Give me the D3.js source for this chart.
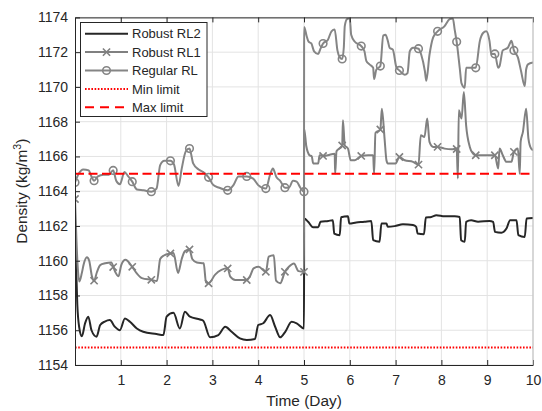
<!DOCTYPE html>
<html>
<head>
<meta charset="utf-8">
<script src="https://cdn.jsdelivr.net/npm/d3@7"></script>
<style>
  body { margin: 0; background: #fff; }
  text { font-family: Arial, "Liberation Sans", Helvetica, sans-serif; fill: #262626; }
</style>
</head>
<body>
<script>
'use strict';

// [day, density] samples
const robustRL2 = [
  [0,1162.4],[0.02,1160.0],[0.05,1157.5],[0.09,1156.2],[0.15,1155.65],[0.22,1156.4],[0.29,1156.78],
  [0.36,1156.0],[0.47,1155.63],[0.55,1156.3],[0.65,1156.5],[0.76,1156.59],[0.87,1156.2],[0.98,1156.0],
  [1.09,1156.68],[1.2,1156.49],[1.35,1156.1],[1.49,1155.91],[1.78,1155.78],[1.93,1155.72],[2.0,1156.78],
  [2.15,1157.0],[2.29,1156.1],[2.4,1157.06],[2.51,1156.78],[2.73,1156.62],[2.8,1156.55],[2.95,1155.59],
  [3.13,1155.72],[3.28,1156.2],[3.42,1155.91],[3.6,1155.53],[3.75,1155.44],[3.93,1155.5],[4.0,1156.3],
  [4.11,1156.4],[4.26,1156.87],[4.37,1156.2],[4.48,1155.59],[4.59,1155.91],[4.73,1156.49],[4.84,1156.4],
  [5.0,1156.1],
  [5.003,1162.43],[5.09,1162.24],[5.2,1161.92],[5.31,1161.92],[5.36,1162.24],[5.53,1162.29],[5.63,1162.33],
  [5.66,1161.56],[5.78,1161.47],[5.81,1162.5],[5.96,1162.56],[5.99,1162.14],[6.14,1162.2],[6.32,1162.24],
  [6.47,1162.29],[6.51,1161.18],[6.65,1161.09],[6.69,1162.14],[6.8,1162.14],[6.83,1161.95],[6.98,1161.99],
  [7.16,1162.1],[7.38,1162.05],[7.45,1161.95],[7.48,1161.56],[7.62,1161.53],[7.66,1162.49],[7.78,1162.52],
  [7.89,1162.62],[8.07,1162.56],[8.29,1162.56],[8.4,1162.52],[8.43,1161.18],[8.51,1161.09],[8.54,1162.24],
  [8.65,1162.33],[8.8,1162.24],[9.05,1162.29],[9.13,1162.24],[9.17,1161.66],[9.31,1161.61],[9.42,1161.85],
  [9.5,1162.33],[9.64,1162.33],[9.68,1161.47],[9.82,1161.37],[9.86,1162.43],[10,1162.46]
];

const robustRL1 = [
  [0,1163.55],[0.03,1161.3],[0.06,1159.6],[0.095,1158.8],[0.15,1159.3],[0.19,1159.8],[0.26,1160.2],
  [0.31,1160.0],[0.37,1159.1],[0.417,1158.85],[0.48,1159.35],[0.55,1159.75],[0.66,1159.85],[0.79,1159.9],
  [0.88,1159.35],[0.95,1159.1],[1.01,1159.75],[1.1,1160.05],[1.25,1159.65],[1.35,1159.27],[1.46,1159.0],
  [1.667,1158.9],[1.79,1158.83],[1.86,1160.1],[1.94,1160.3],[2.083,1160.42],[2.15,1160.45],[2.25,1159.3],
  [2.33,1160.1],[2.4,1160.55],[2.5,1160.65],[2.56,1160.1],[2.66,1159.9],[2.81,1159.85],[2.86,1158.75],
  [2.917,1158.7],[3.06,1159.2],[3.333,1159.56],[3.39,1159.08],[3.5,1158.89],[3.75,1158.89],[3.82,1159.1],
  [3.9,1159.56],[4.01,1159.65],[4.167,1159.36],[4.23,1160.23],[4.34,1160.32],[4.39,1158.85],[4.48,1158.7],
  [4.583,1159.36],[4.67,1159.65],[4.78,1159.84],[4.88,1159.4],[5.0,1159.36],
  [5.003,1167.6],[5.05,1166.6],[5.12,1166.07],[5.17,1166.0],[5.2,1165.6],[5.31,1165.6],[5.34,1166.07],
  [5.417,1166.03],[5.52,1166.07],[5.67,1166.16],[5.68,1165.0],[5.71,1166.3],[5.833,1166.6],[5.85,1168.08],
  [5.89,1166.64],[5.96,1166.45],[6.02,1165.78],[6.11,1165.78],[6.25,1166.03],[6.4,1166.07],[6.51,1166.07],
  [6.53,1165.0],[6.56,1167.35],[6.667,1167.55],[6.7,1168.75],[6.76,1167.0],[6.8,1165.78],[6.83,1165.59],
  [7.0,1165.59],[7.083,1165.97],[7.2,1165.78],[7.38,1165.69],[7.5,1165.53],[7.55,1167.22],[7.63,1167.12],
  [7.69,1168.18],[7.74,1166.84],[7.82,1166.55],[7.917,1166.55],[8.07,1166.45],[8.22,1166.41],[8.333,1166.45],
  [8.36,1164.73],[8.38,1168.66],[8.44,1168.18],[8.49,1169.71],[8.54,1167.79],[8.62,1166.55],[8.69,1166.16],
  [8.75,1166.07],[8.95,1166.07],[9.09,1166.07],[9.167,1166.07],[9.24,1165.3],[9.27,1166.45],[9.34,1166.07],
  [9.42,1165.69],[9.53,1165.69],[9.583,1166.26],[9.67,1166.45],[9.71,1165.01],[9.73,1166.84],[9.78,1167.41],
  [9.85,1168.75],[9.9,1167.03],[9.96,1166.45],[10,1166.36]
];

const regularRL = [
  [0,1164.5],[0.08,1165.0],[0.18,1165.25],[0.3,1165.2],[0.35,1164.9],[0.417,1164.6],[0.5,1164.85],
  [0.62,1164.95],[0.74,1164.95],[0.833,1165.2],[0.9,1164.6],[0.98,1164.4],[1.08,1165.1],[1.15,1164.9],
  [1.25,1164.55],[1.35,1164.1],[1.5,1164.05],[1.667,1163.97],[1.78,1164.15],[1.86,1165.5],[1.95,1165.75],
  [2.083,1165.75],[2.16,1165.55],[2.26,1164.3],[2.33,1165.3],[2.42,1166.3],[2.5,1166.45],[2.58,1165.6],
  [2.7,1165.25],[2.8,1165.1],[2.917,1164.8],[3.02,1164.35],[3.15,1164.2],[3.333,1164.05],[3.46,1164.35],
  [3.57,1164.85],[3.75,1164.85],[3.89,1164.72],[4.0,1164.35],[4.167,1164.15],[4.26,1164.95],[4.32,1165.3],
  [4.4,1164.8],[4.48,1164.6],[4.583,1164.2],[4.67,1164.2],[4.76,1164.6],[4.84,1164.55],[4.92,1164.2],
  [5.0,1163.97],
  [5.003,1173.45],[5.06,1172.9],[5.1,1172.6],[5.16,1172.5],[5.22,1172.05],[5.31,1171.9],[5.36,1172.2],
  [5.417,1172.5],[5.52,1172.7],[5.6,1173.2],[5.67,1173.3],[5.73,1172.1],[5.78,1171.7],[5.833,1171.6],
  [5.87,1172.3],[5.89,1173.5],[5.94,1173.9],[6.0,1173.95],[6.03,1173.0],[6.11,1172.6],[6.25,1172.35],
  [6.32,1172.05],[6.36,1171.5],[6.43,1171.3],[6.51,1171.1],[6.53,1170.45],[6.58,1171.0],[6.667,1171.2],
  [6.73,1172.95],[6.78,1173.0],[6.83,1172.65],[6.87,1172.25],[6.94,1172.15],[7.02,1171.1],[7.083,1170.95],
  [7.2,1170.7],[7.26,1170.8],[7.31,1172.05],[7.38,1172.25],[7.5,1172.2],[7.56,1171.85],[7.64,1170.9],
  [7.67,1170.35],[7.74,1171.85],[7.82,1172.85],[7.917,1173.2],[8.07,1173.5],[8.18,1173.9],[8.25,1173.94],
  [8.29,1173.3],[8.333,1172.6],[8.4,1171.1],[8.44,1170.2],[8.51,1169.95],[8.54,1171.1],[8.62,1171.1],
  [8.75,1171.1],[8.84,1172.65],[8.91,1173.1],[8.98,1173.2],[9.05,1172.65],[9.09,1171.9],[9.167,1171.9],
  [9.24,1171.1],[9.27,1171.2],[9.34,1172.1],[9.45,1172.25],[9.53,1172.65],[9.583,1172.1],[9.67,1171.7],
  [9.74,1170.9],[9.82,1170.05],[9.85,1171.0],[9.89,1171.3],[10,1171.4]
];

const minLimit = 1155;
const maxLimit = 1165;
const xTicks = [1, 2, 3, 4, 5, 6, 7, 8, 9, 10];
const yTicks = [1154, 1156, 1158, 1160, 1162, 1164, 1166, 1168, 1170, 1172, 1174];
const markerDays = d3.range(0, 24).map(k => (k * 5) / 12);
const legendNames = ['Robust RL2', 'Robust RL1', 'Regular RL', 'Min limit', 'Max limit'];

const width = 542, height = 411;
const margin = { left: 75, right: 9, top: 17.4, bottom: 46 };
const axisColor = '#262626';

const svg = d3.select('body').append('svg')
  .attr('width', width)
  .attr('height', height);

const x = d3.scaleLinear().domain([0, 10]).range([margin.left, width - margin.right]);
const y = d3.scaleLinear().domain([1154, 1174]).range([height - margin.bottom, margin.top]);

svg.append('clipPath').attr('id', 'plot-clip')
  .append('rect')
  .attr('x', x(0)).attr('y', y(1174))
  .attr('width', x(10) - x(0)).attr('height', y(1154) - y(1174));

// grid
const grid = svg.append('g');
grid.selectAll('.gx').data(xTicks).enter().append('line')
  .attr('x1', d => x(d)).attr('x2', d => x(d))
  .attr('y1', y(1154)).attr('y2', y(1174))
  .attr('stroke', '#e3e3e3').attr('stroke-width', 1);
grid.selectAll('.gy').data(yTicks).enter().append('line')
  .attr('x1', x(0)).attr('x2', x(10))
  .attr('y1', d => y(d)).attr('y2', d => y(d))
  .attr('stroke', '#e3e3e3').attr('stroke-width', 1);

// series
const line = d3.line()
  .x(d => x(d[0]))
  .y(d => y(d[1]))
  .curve(d3.curveMonotoneX);

const plot = svg.append('g').attr('clip-path', 'url(#plot-clip)');

const series = [
  { data: robustRL2, color: '#262626', marker: null },
  { data: robustRL1, color: '#808080', marker: 'x' },
  { data: regularRL, color: '#858585', marker: 'o' }
];

// linear read of a series at a given day, used to place the markers
function valueAt(data, day) {
  const i = d3.bisector(d => d[0]).left(data, day);
  if (i >= data.length) return data[data.length - 1][1];
  if (i <= 0 || data[i][0] === day) return data[i][1];
  const a = data[i - 1], b = data[i];
  const t = (day - a[0]) / (b[0] - a[0]);
  return a[1] + t * (b[1] - a[1]);
}

function drawMarker(g, type, cx, cy, color) {
  if (type === 'x') {
    const s = 3.6;
    g.append('path')
      .attr('d', `M${cx - s},${cy - s}L${cx + s},${cy + s}M${cx - s},${cy + s}L${cx + s},${cy - s}`)
      .attr('stroke', color).attr('stroke-width', 1.6).attr('fill', 'none');
  } else if (type === 'o') {
    g.append('circle')
      .attr('cx', cx).attr('cy', cy).attr('r', 3.8)
      .attr('stroke', color).attr('stroke-width', 1.6).attr('fill', 'none');
  }
}

series.forEach(s => {
  plot.append('path')
    .datum(s.data)
    .attr('d', line)
    .attr('fill', 'none')
    .attr('stroke', s.color)
    .attr('stroke-width', 2)
    .attr('stroke-linejoin', 'round');
  if (s.marker) {
    markerDays.forEach(day => {
      drawMarker(plot, s.marker, x(day), y(valueAt(s.data, day)), s.color);
    });
  }
});

// limits
plot.append('line')
  .attr('x1', x(0)).attr('x2', x(10))
  .attr('y1', y(minLimit)).attr('y2', y(minLimit))
  .attr('stroke', '#ff0000').attr('stroke-width', 2)
  .attr('stroke-dasharray', '1.6,1.6');
plot.append('line')
  .attr('x1', x(0)).attr('x2', x(10))
  .attr('y1', y(maxLimit)).attr('y2', y(maxLimit))
  .attr('stroke', '#ff0000').attr('stroke-width', 2)
  .attr('stroke-dasharray', '9,4.5');

// axes, ticks pointing inward like matlab
const fmt = d3.format('d');
const xAxis = svg.append('g')
  .attr('transform', `translate(0,${y(1154)})`)
  .call(d3.axisBottom(x).tickValues(xTicks).tickFormat(fmt).tickSizeInner(-5).tickSizeOuter(0).tickPadding(10));
const xTop = svg.append('g')
  .attr('transform', `translate(0,${y(1174)})`)
  .call(d3.axisTop(x).tickValues(xTicks).tickSizeInner(-5).tickSizeOuter(0).tickFormat(''));
const yAxis = svg.append('g')
  .attr('transform', `translate(${x(0)},0)`)
  .call(d3.axisLeft(y).tickValues(yTicks).tickFormat(fmt).tickSizeInner(-5).tickSizeOuter(0).tickPadding(7));

[xAxis, xTop, yAxis].forEach(g => {
  g.select('.domain').attr('stroke', axisColor).attr('stroke-width', 1);
  g.selectAll('.tick line').attr('stroke', axisColor);
  g.selectAll('.tick text').style('font-size', '14px').attr('fill', axisColor)
    .style('font-family', 'Arial, "Liberation Sans", sans-serif');
});
// right border is faint in the figure
svg.append('line')
  .attr('x1', x(10)).attr('x2', x(10))
  .attr('y1', y(1154)).attr('y2', y(1174))
  .attr('stroke', '#bdbdbd').attr('stroke-width', 1);

// axis labels
svg.append('text')
  .attr('x', (x(0) + x(10)) / 2)
  .attr('y', 406)
  .attr('text-anchor', 'middle')
  .style('font-size', '15.4px')
  .text('Time (Day)');

const yLabel = svg.append('text')
  .attr('transform', `translate(27,${(y(1154) + y(1174)) / 2}) rotate(-90)`)
  .attr('text-anchor', 'middle')
  .style('font-size', '15.4px');
yLabel.append('tspan').text('Density (kg/m');
yLabel.append('tspan').attr('baseline-shift', 'super').style('font-size', '10.5px').text('3');
yLabel.append('tspan').text(')');

// legend
const legend = svg.append('g');
legend.append('rect')
  .attr('x', 80.5).attr('y', 22.5)
  .attr('width', 126.5).attr('height', 94)
  .attr('fill', '#fff')
  .attr('stroke', axisColor).attr('stroke-width', 1);

const legendStyles = [
  { color: '#262626', dash: null, marker: null },
  { color: '#808080', dash: null, marker: 'x' },
  { color: '#858585', dash: null, marker: 'o' },
  { color: '#ff0000', dash: '1.6,1.6', marker: null },
  { color: '#ff0000', dash: '9,6', marker: null }
];

legendNames.forEach((name, i) => {
  const cy = 33.7 + i * 18.4;
  const st = legendStyles[i];
  const l = legend.append('line')
    .attr('x1', 85).attr('x2', 128)
    .attr('y1', cy).attr('y2', cy)
    .attr('stroke', st.color).attr('stroke-width', 2);
  if (st.dash) l.attr('stroke-dasharray', st.dash);
  if (st.marker) drawMarker(legend, st.marker, 106.5, cy, st.color);
  legend.append('text')
    .attr('x', 132)
    .attr('y', cy + 4.6)
    .style('font-size', '13px')
    .text(name);
});
</script>
</body>
</html>
